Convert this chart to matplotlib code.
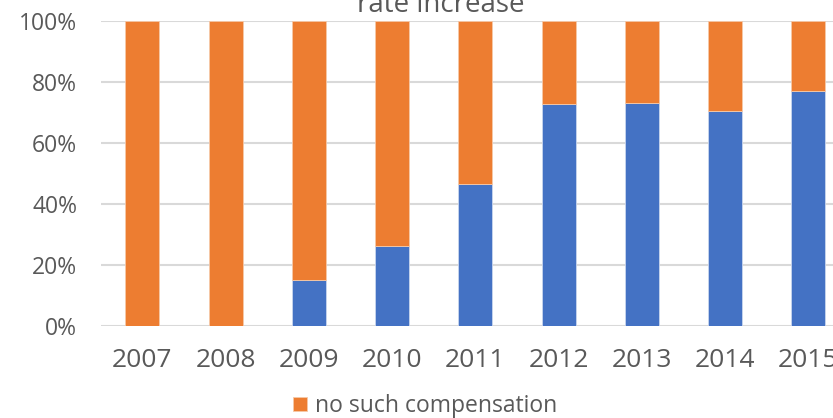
import numpy as np
import matplotlib.pyplot as plt
from matplotlib.ticker import PercentFormatter

# share of cases per year (in %)
years = ['2007', '2008', '2009', '2010', '2011', '2012', '2013', '2014', '2015']
with_compensation = [0, 0, 15.1, 26.3, 46.5, 72.7, 73.2, 70.6, 77.1]
no_compensation = [100 - v for v in with_compensation]

blue = '#4472C4'
orange = '#ED7D31'
grey_text = '#595959'

plt.rcParams['font.family'] = ['Open Sans', 'DejaVu Sans']

fig = plt.figure(figsize=(8.33, 4.18), dpi=100)
ax = fig.add_axes([100.7 / 833, 92 / 418, 749.3 / 833, 305 / 418])

x = np.arange(len(years))
w = 0.407
ax.bar(x, with_compensation, w, color=blue, edgecolor='#c9d6ee', linewidth=0.6,
       zorder=3, label='_nolegend_')
ax.bar(x, no_compensation, w, bottom=with_compensation, color=orange,
       edgecolor='#f6c9a8', linewidth=0.6, zorder=3, label='no such compensation')

ax.set_xlim(-0.5, len(years) - 0.5)
ax.set_ylim(0, 100)
ax.set_yticks(np.arange(0, 101, 20))
ax.yaxis.set_major_formatter(PercentFormatter(decimals=0))
ax.set_xticks(x)
ax.set_xticklabels(years)

ax.grid(axis='y', color='#d9d9d9', linewidth=1.5, zorder=0)
for s in ax.spines.values():
    s.set_visible(False)
ax.tick_params(axis='both', length=0, colors=grey_text)
ax.tick_params(axis='y', pad=17, labelsize=16.5)
ax.tick_params(axis='x', pad=16, labelsize=19)

fig.text(441 / 833, 1 - 12 / 418, 'rate increase', ha='center', va='baseline',
         fontsize=20, color=grey_text)

fig.legend(loc='center', bbox_to_anchor=(425 / 833, 1 - 406 / 418), frameon=False,
           fontsize=16.5, labelcolor=grey_text, handlelength=0.6, handleheight=0.6,
           handletextpad=0.35)

fig.savefig('out.png', dpi=100)
